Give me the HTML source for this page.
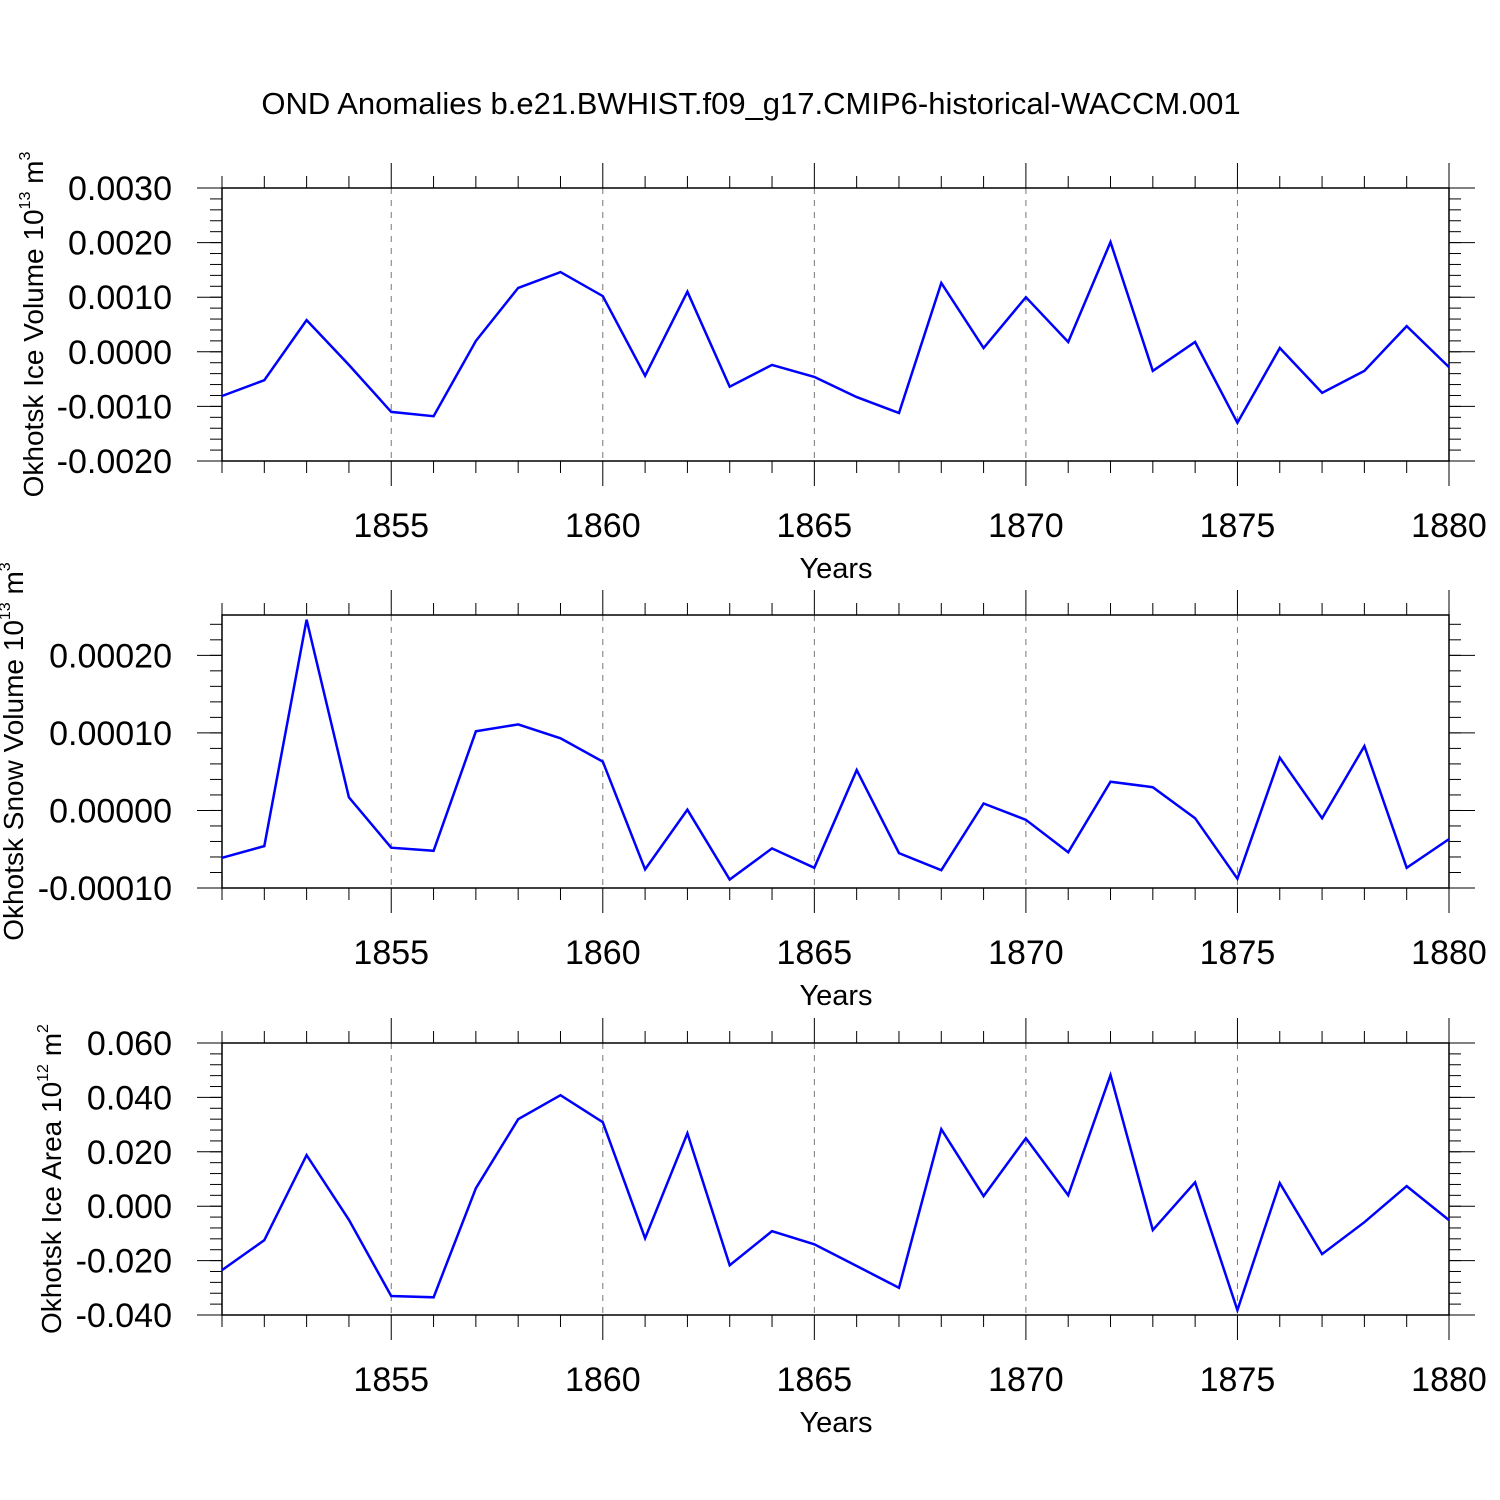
<!DOCTYPE html>
<html><head><meta charset="utf-8"><style>
body{margin:0;background:#fff}
svg{display:block;font-family:"Liberation Sans",Arial,sans-serif}
</style></head><body>
<svg id="c" width="1500" height="1500" xmlns="http://www.w3.org/2000/svg">
<text x="751" y="114" font-size="31" text-anchor="middle">OND Anomalies b.e21.BWHIST.f09_g17.CMIP6-historical-WACCM.001</text>
</svg>
<script>
const years=[1851,1852,1853,1854,1855,1856,1857,1858,1859,1860,1861,1862,1863,1864,1865,1866,1867,1868,1869,1870,1871,1872,1873,1874,1875,1876,1877,1878,1879,1880];
const xTicks=[1855,1860,1865,1870,1875,1880];
const iceVolume=[-0.00081,-0.00052,0.00058,-0.00024,-0.0011,-0.00118,0.0002,0.00117,0.00146,0.00102,-0.00044,0.0011,-0.00064,-0.00024,-0.00046,-0.00083,-0.00112,0.00126,0.00007,0.001,0.00018,0.00201,-0.00035,0.00018,-0.0013,0.00007,-0.00075,-0.00035,0.00047,-0.00028];
const snowVolume=[-0.000061,-0.000046,0.000246,0.000017,-0.000048,-0.000052,0.000102,0.000111,0.000093,0.000063,-0.000076,0.000001,-0.000089,-0.000049,-0.000074,0.000052,-0.000055,-0.000077,0.000009,-0.000012,-0.000054,0.000037,0.00003,-0.00001,-0.000088,0.000068,-0.00001,0.000083,-0.000074,-0.000037];
const iceArea=[-0.0235,-0.0125,0.0188,-0.005,-0.033,-0.0335,0.0066,0.032,0.0408,0.0309,-0.0118,0.0268,-0.0217,-0.0092,-0.014,-0.022,-0.030,0.0283,0.0037,0.025,0.004,0.0482,-0.0088,0.0088,-0.0382,0.0085,-0.0176,-0.0059,0.0074,-0.0051];
const yTicks1=[-0.002,-0.001,0,0.001,0.002,0.003];
const yLabels1=["-0.0020","-0.0010","0.0000","0.0010","0.0020","0.0030"];
const yTicks2=[-0.0001,0,0.0001,0.0002];
const yLabels2=["-0.00010","0.00000","0.00010","0.00020"];
const yTicks3=[-0.04,-0.02,0,0.02,0.04,0.06];
const yLabels3=["-0.040","-0.020","0.000","0.020","0.040","0.060"];

const svg=document.getElementById('c');
const NS="http://www.w3.org/2000/svg";
function mk(tag,attrs,parent){const e=document.createElementNS(NS,tag);for(const k in attrs)e.setAttribute(k,attrs[k]);(parent||svg).appendChild(e);return e;}
const X0=222,X1=1449;
function xs(v){return X0+(v-1851)/(1880-1851)*(X1-X0);}

const panels=[
 {name:'ice-volume',top:188,bot:461,ymin:-0.002,ymax:0.003,minor:0.0002,data:iceVolume,ticks:yTicks1,labels:yLabels1,title:'Okhotsk Ice Volume 10',sup:'13',unit:' m',usup:'3',tx:32},
 {name:'snow-volume',top:615,bot:888,ymin:-0.0001,ymax:0.000252,minor:0.00002,data:snowVolume,ticks:yTicks2,labels:yLabels2,title:'Okhotsk Snow Volume 10',sup:'13',unit:' m',usup:'3',tx:12},
 {name:'ice-area',top:1043,bot:1315,ymin:-0.04,ymax:0.06,minor:0.004,data:iceArea,ticks:yTicks3,labels:yLabels3,title:'Okhotsk Ice Area 10',sup:'12',unit:' m',usup:'2',tx:50}
];

panels.forEach(p=>{
 const g=mk('g',{});
 
 
 const ys=v=>p.bot-(v-p.ymin)/(p.ymax-p.ymin)*(p.bot-p.top);
 xTicks.forEach(t=>{if(t<1880){const l=mk('line',{x1:xs(t),x2:xs(t),y1:p.top,y2:p.bot,stroke:'#777','stroke-width':1,'stroke-dasharray':'6,6'},g);
 }});
 const fr=mk('rect',{x:X0,y:p.top,width:X1-X0,height:p.bot-p.top,fill:'none',stroke:'#000','stroke-width':1.5},g);
 
 years.forEach(yr=>{const maj=xTicks.includes(yr);const L=maj?25:12;const x=xs(yr);
  mk('line',{x1:x,x2:x,y1:p.top-L,y2:p.top,stroke:'#000','stroke-width':1},g);
  mk('line',{x1:x,x2:x,y1:p.bot,y2:p.bot+L,stroke:'#000','stroke-width':1},g);});
 xTicks.forEach(t=>{const tl=mk('text',{x:xs(t),y:p.bot+76,'font-size':34,'text-anchor':'middle'},g);tl.textContent=t;
  });
 const xt=mk('text',{x:836,y:p.bot+117,'font-size':29,'text-anchor':'middle'},g);xt.textContent='Years';
 
 const n=Math.round((p.ymax-p.ymin)/p.minor)+1;
 for(let i=0;i<=n;i++){const v=p.ymin+i*p.minor;if(v>p.ymax+1e-12)break;const y=ys(v);
  mk('line',{x1:X0-12,x2:X0,y1:y,y2:y,stroke:'#000','stroke-width':1},g);
  mk('line',{x1:X1,x2:X1+12,y1:y,y2:y,stroke:'#000','stroke-width':1},g);}
 p.ticks.forEach((t,i)=>{const y=ys(t);
  mk('line',{x1:X0-25,x2:X0,y1:y,y2:y,stroke:'#000','stroke-width':1},g);
  mk('line',{x1:X1,x2:X1+26,y1:y,y2:y,stroke:'#000','stroke-width':1},g);
  const tl=mk('text',{x:172,y:y+12,'font-size':34,'text-anchor':'end'},g);tl.textContent=p.labels[i];
  });
 const cy=(p.top+p.bot)/2;
 const yt=mk('text',{x:0,y:0,'font-size':28,'text-anchor':'middle',transform:`translate(${p.tx+11},${cy}) rotate(-90)`},g);
 
 yt.innerHTML=`${p.title}<tspan font-size="16" dy="-13">${p.sup}</tspan><tspan dy="13">${p.unit}</tspan><tspan font-size="16" dy="-13">${p.usup}</tspan>`;
 const pts=p.data.map((v,i)=>xs(years[i]).toFixed(1)+','+ys(v).toFixed(1)).join(' ');
 const pl=mk('polyline',{points:pts,fill:'none',stroke:'#0000ff','stroke-width':2.5,'stroke-linejoin':'miter'},g);
 
});
</script>
</body></html>
